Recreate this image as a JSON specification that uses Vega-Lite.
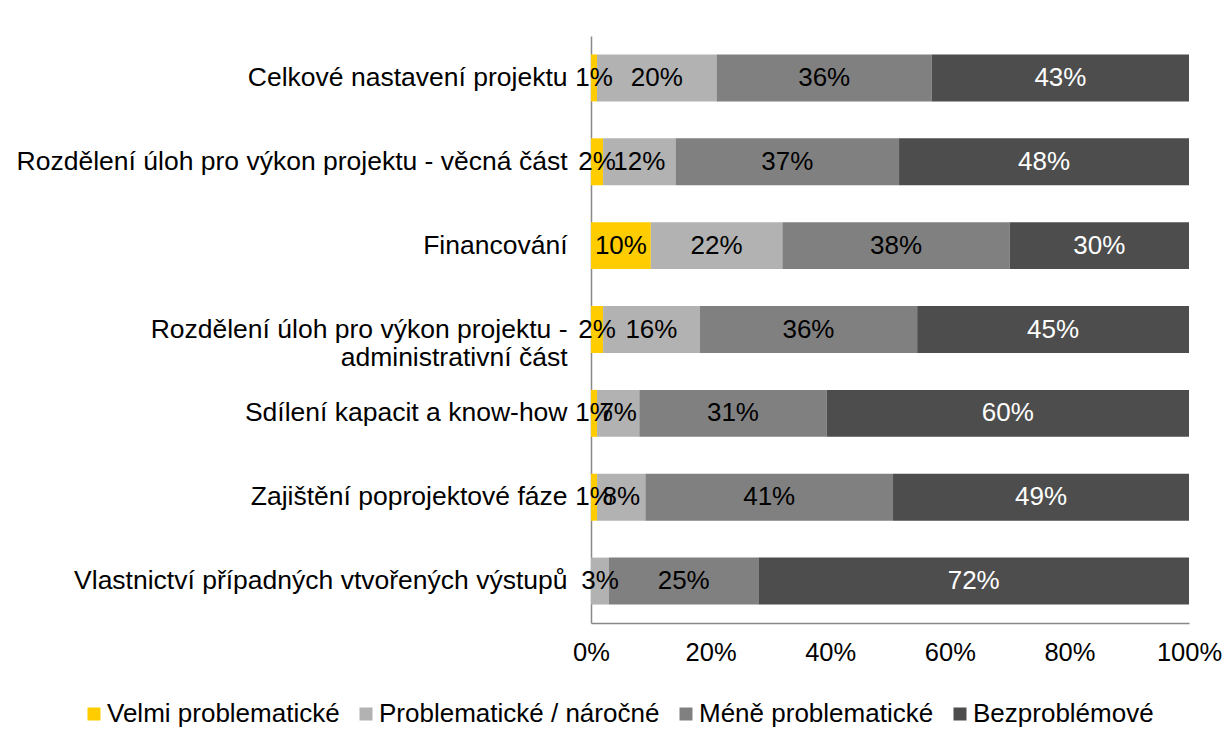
{
  "$schema": "https://vega.github.io/schema/vega-lite/v6.json",
  "autosize": "none",
  "width": 598,
  "height": 587,
  "padding": {"left": 591, "top": 36, "right": 38, "bottom": 124},
  "background": "white",
  "config": {
    "font": "Liberation Sans",
    "view": {"stroke": null}
  },
  "data": {
    "values": [
      {"kategorie": "Celkové nastavení projektu", "hodnoceni": "Velmi problematické", "poradi": 1, "podil": 0.01},
      {"kategorie": "Celkové nastavení projektu", "hodnoceni": "Problematické / náročné", "poradi": 2, "podil": 0.20},
      {"kategorie": "Celkové nastavení projektu", "hodnoceni": "Méně problematické", "poradi": 3, "podil": 0.36},
      {"kategorie": "Celkové nastavení projektu", "hodnoceni": "Bezproblémové", "poradi": 4, "podil": 0.43},
      {"kategorie": "Rozdělení úloh pro výkon projektu - věcná část", "hodnoceni": "Velmi problematické", "poradi": 1, "podil": 0.02},
      {"kategorie": "Rozdělení úloh pro výkon projektu - věcná část", "hodnoceni": "Problematické / náročné", "poradi": 2, "podil": 0.12},
      {"kategorie": "Rozdělení úloh pro výkon projektu - věcná část", "hodnoceni": "Méně problematické", "poradi": 3, "podil": 0.37},
      {"kategorie": "Rozdělení úloh pro výkon projektu - věcná část", "hodnoceni": "Bezproblémové", "poradi": 4, "podil": 0.48},
      {"kategorie": "Financování", "hodnoceni": "Velmi problematické", "poradi": 1, "podil": 0.10},
      {"kategorie": "Financování", "hodnoceni": "Problematické / náročné", "poradi": 2, "podil": 0.22},
      {"kategorie": "Financování", "hodnoceni": "Méně problematické", "poradi": 3, "podil": 0.38},
      {"kategorie": "Financování", "hodnoceni": "Bezproblémové", "poradi": 4, "podil": 0.30},
      {"kategorie": "Rozdělení úloh pro výkon projektu - administrativní část", "hodnoceni": "Velmi problematické", "poradi": 1, "podil": 0.02},
      {"kategorie": "Rozdělení úloh pro výkon projektu - administrativní část", "hodnoceni": "Problematické / náročné", "poradi": 2, "podil": 0.16},
      {"kategorie": "Rozdělení úloh pro výkon projektu - administrativní část", "hodnoceni": "Méně problematické", "poradi": 3, "podil": 0.36},
      {"kategorie": "Rozdělení úloh pro výkon projektu - administrativní část", "hodnoceni": "Bezproblémové", "poradi": 4, "podil": 0.45},
      {"kategorie": "Sdílení kapacit a know-how", "hodnoceni": "Velmi problematické", "poradi": 1, "podil": 0.01},
      {"kategorie": "Sdílení kapacit a know-how", "hodnoceni": "Problematické / náročné", "poradi": 2, "podil": 0.07},
      {"kategorie": "Sdílení kapacit a know-how", "hodnoceni": "Méně problematické", "poradi": 3, "podil": 0.31},
      {"kategorie": "Sdílení kapacit a know-how", "hodnoceni": "Bezproblémové", "poradi": 4, "podil": 0.60},
      {"kategorie": "Zajištění poprojektové fáze", "hodnoceni": "Velmi problematické", "poradi": 1, "podil": 0.01},
      {"kategorie": "Zajištění poprojektové fáze", "hodnoceni": "Problematické / náročné", "poradi": 2, "podil": 0.08},
      {"kategorie": "Zajištění poprojektové fáze", "hodnoceni": "Méně problematické", "poradi": 3, "podil": 0.41},
      {"kategorie": "Zajištění poprojektové fáze", "hodnoceni": "Bezproblémové", "poradi": 4, "podil": 0.49},
      {"kategorie": "Vlastnictví případných vtvořených výstupů", "hodnoceni": "Problematické / náročné", "poradi": 2, "podil": 0.03},
      {"kategorie": "Vlastnictví případných vtvořených výstupů", "hodnoceni": "Méně problematické", "poradi": 3, "podil": 0.25},
      {"kategorie": "Vlastnictví případných vtvořených výstupů", "hodnoceni": "Bezproblémové", "poradi": 4, "podil": 0.72}
    ]
  },
  "transform": [
    {"stack": "podil", "groupby": ["kategorie"], "sort": [{"field": "poradi", "order": "ascending"}], "as": ["x0", "x1"], "offset": "normalize"}
  ],
  "encoding": {
    "y": {
      "field": "kategorie",
      "type": "nominal",
      "sort": [
        "Celkové nastavení projektu",
        "Rozdělení úloh pro výkon projektu - věcná část",
        "Financování",
        "Rozdělení úloh pro výkon projektu - administrativní část",
        "Sdílení kapacit a know-how",
        "Zajištění poprojektové fáze",
        "Vlastnictví případných vtvořených výstupů"
      ],
      "scale": {"paddingInner": 0.44, "paddingOuter": 0.22},
      "axis": {
        "title": null,
        "ticks": false,
        "domainColor": "#898989",
        "domainWidth": 1.5,
        "labelFont": "Liberation Sans",
        "labelFontSize": 26.5,
        "labelColor": "black",
        "labelPadding": 24,
        "labelLimit": 0,
        "labelLineHeight": 28,
        "labelExpr": "datum.label == 'Rozdělení úloh pro výkon projektu - administrativní část' ? ['Rozdělení úloh pro výkon projektu -', 'administrativní část'] : datum.label"
      }
    },
    "x": {
      "field": "x0",
      "type": "quantitative",
      "scale": {"domain": [0, 1], "nice": false},
      "axis": {
        "title": null,
        "format": ".0%",
        "values": [0, 0.2, 0.4, 0.6, 0.8, 1],
        "grid": false,
        "ticks": false,
        "domainColor": "#898989",
        "domainWidth": 1.5,
        "labelFont": "Liberation Sans",
        "labelFontSize": 25.5,
        "labelColor": "black",
        "labelPadding": 17,
        "labelFlush": false
      }
    }
  },
  "layer": [
    {
      "mark": {"type": "bar"},
      "encoding": {
        "x2": {"field": "x1"},
        "color": {
          "field": "hodnoceni",
          "type": "nominal",
          "scale": {
            "domain": ["Velmi problematické", "Problematické / náročné", "Méně problematické", "Bezproblémové"],
            "range": ["#FFCC00", "#B2B2B2", "#808080", "#4D4D4D"]
          },
          "legend": {
            "title": null,
            "orient": "none",
            "direction": "horizontal",
            "legendX": -510,
            "legendY": 665,
            "symbolType": "square",
            "symbolSize": 169,
            "symbolStrokeWidth": 0,
            "labelFont": "Liberation Sans",
            "labelFontSize": 26,
            "labelColor": "black",
            "labelOffset": 0,
            "columnPadding": 13,
            "labelLimit": 0
          }
        }
      }
    },
    {
      "mark": {
        "type": "text",
        "align": "center",
        "baseline": "middle",
        "font": "Liberation Sans",
        "fontSize": 26,
        "dx": {"expr": "(scale('x', datum.x1) - scale('x', datum.x0)) / 2"}
      },
      "encoding": {
        "text": {"field": "podil", "type": "quantitative", "format": ".0%"},
        "color": {
          "condition": {"test": "datum.hodnoceni == 'Bezproblémové'", "value": "white"},
          "value": "black"
        }
      }
    }
  ]
}
